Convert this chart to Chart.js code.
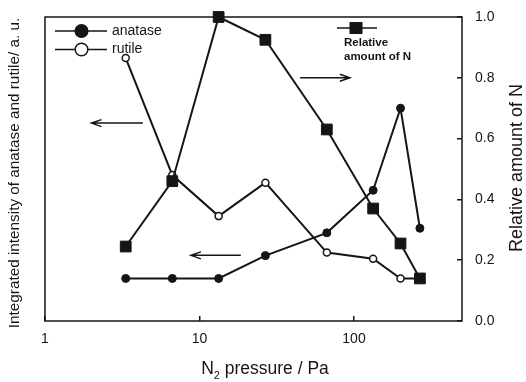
<!DOCTYPE html>
<html>
<head>
<meta charset="utf-8">
<script src="https://cdn.jsdelivr.net/npm/chart.js@4.4.0/dist/chart.umd.min.js"></script>
<style>
  html, body { margin: 0; padding: 0; background: #fff; }
</style>
</head>
<body>
<canvas id="myChart" width="526" height="382"></canvas>
<script>
// N2 pressure (Pa) and the three measured series
const pressures = [3.33, 6.67, 13.3, 26.7, 66.7, 133, 200, 267];
const anatase = [0.14, 0.14, 0.14, 0.215, 0.29, 0.43, 0.70, 0.305];
const rutile = [0.865, 0.48, 0.345, 0.455, 0.225, 0.205, 0.14, 0.14];
const nitrogen = [0.245, 0.46, 1.0, 0.925, 0.63, 0.37, 0.255, 0.14];

const xTicks = [1, 10, 100];
const rightTicks = [0, 0.2, 0.4, 0.6, 0.8, 1.0];

// arrows that point at the axis each curve belongs to (pressure, value)
const arrows = [
    { from: 4.3, to: 2.0, level: 0.651 },
    { from: 18.5, to: 8.8, level: 0.216 },
    { from: 44.8, to: 94, level: 0.80 }
];

const FONT = '"Liberation Sans", Arial, sans-serif';
const INK = '#151515';

function pts(values) {
    return pressures.map((p, i) => ({ x: p, y: values[i] }));
}

// no extra room for half labels, the box is fixed
function noPad(s) {
    s.paddingTop = 0;
    s.paddingBottom = 0;
    s.paddingLeft = 0;
    s.paddingRight = 0;
}

const decorations = {
    id: 'decorations',
    beforeDatasetsDraw(chart) {
        const { ctx, chartArea: a } = chart;
        ctx.save();
        ctx.strokeStyle = INK;
        ctx.lineWidth = 1.5;
        ctx.strokeRect(a.left, a.top, a.right - a.left, a.bottom - a.top);
        ctx.restore();
    },
    afterDraw(chart) {
        const ctx = chart.ctx;
        const xs = chart.scales.x;
        const ys = chart.scales.y1;
        ctx.save();
        ctx.strokeStyle = INK;
        ctx.fillStyle = INK;
        ctx.lineWidth = 1.5;

        // arrows
        arrows.forEach(ar => {
            const x1 = xs.getPixelForValue(ar.from);
            const x2 = xs.getPixelForValue(ar.to);
            const y = ys.getPixelForValue(ar.level);
            const d = Math.sign(x2 - x1);
            ctx.beginPath();
            ctx.moveTo(x1, y);
            ctx.lineTo(x2, y);
            ctx.moveTo(x2 - d * 10, y - 3.5);
            ctx.lineTo(x2, y);
            ctx.lineTo(x2 - d * 10, y + 3.5);
            ctx.stroke();
        });

        // legend (top left)
        ctx.font = '14px ' + FONT;
        ctx.textBaseline = 'middle';
        ctx.textAlign = 'left';
        [[31, true, 'anatase'], [49.5, false, 'rutile']].forEach(([y, filled, txt]) => {
            ctx.beginPath();
            ctx.moveTo(55, y);
            ctx.lineTo(107, y);
            ctx.stroke();
            ctx.beginPath();
            ctx.arc(81.5, y, 6.3, 0, Math.PI * 2);
            ctx.fillStyle = filled ? INK : '#fff';
            ctx.fill();
            ctx.stroke();
            ctx.fillStyle = INK;
            ctx.fillText(txt, 112, y);
        });

        // legend for N
        ctx.beginPath();
        ctx.moveTo(337, 28);
        ctx.lineTo(377, 28);
        ctx.stroke();
        ctx.fillRect(349.5, 22, 13, 12);
        ctx.font = 'bold 11.5px ' + FONT;
        ctx.fillText('Relative', 344, 43);
        ctx.fillText('amount of N', 344, 57);

        // axis titles
        ctx.textAlign = 'center';
        ctx.save();
        ctx.translate(15, 173);
        ctx.rotate(-Math.PI / 2);
        ctx.font = '15.3px ' + FONT;
        ctx.fillText('Integrated intensity of anatase and rutile/ a. u.', 0, 0);
        ctx.restore();

        ctx.save();
        ctx.translate(517, 168);
        ctx.rotate(-Math.PI / 2);
        ctx.font = '18px ' + FONT;
        ctx.fillText('Relative amount of N', 0, 0);
        ctx.restore();

        // x title with subscript
        ctx.textAlign = 'left';
        ctx.textBaseline = 'alphabetic';
        const big = '17.5px ' + FONT, small = '11px ' + FONT;
        ctx.font = big;
        const wN = ctx.measureText('N').width;
        const wRest = ctx.measureText(' pressure / Pa').width;
        ctx.font = small;
        const wSub = ctx.measureText('2').width;
        let x = 265 - (wN + wSub + wRest) / 2;
        const base = 374;
        ctx.font = big;
        ctx.fillText('N', x, base);
        x += wN;
        ctx.font = small;
        ctx.fillText('2', x, base + 5);
        x += wSub;
        ctx.font = big;
        ctx.fillText(' pressure / Pa', x, base);

        ctx.restore();
    }
};

const canvas = document.getElementById('myChart');
const myChart = new Chart(canvas, {
    type: 'line',
    data: {
        datasets: [
            {
                label: 'anatase',
                data: pts(anatase),
                yAxisID: 'y',
                order: 1,
                borderColor: INK,
                backgroundColor: INK,
                borderWidth: 2,
                pointRadius: 4,
                pointBorderWidth: 1,
                pointStyle: 'circle',
                clip: false
            },
            {
                label: 'rutile',
                data: pts(rutile),
                yAxisID: 'y',
                order: 2,
                borderColor: INK,
                backgroundColor: '#fff',
                borderWidth: 2,
                pointRadius: 3.5,
                pointBorderWidth: 1.5,
                pointStyle: 'circle',
                clip: false
            },
            {
                label: 'Relative amount of N',
                data: pts(nitrogen),
                yAxisID: 'y1',
                order: 0,
                borderColor: INK,
                backgroundColor: INK,
                borderWidth: 2,
                pointRadius: 7.6,
                pointBorderWidth: 1,
                pointStyle: 'rect',
                clip: false
            }
        ]
    },
    options: {
        responsive: false,
        animation: false,
        layout: { padding: { top: 17, left: 0, right: 0, bottom: 0 } },
        plugins: {
            legend: { display: false },
            tooltip: { enabled: false }
        },
        scales: {
            x: {
                type: 'logarithmic',
                min: 1,
                max: 500,
                afterBuildTicks: s => { s.ticks = xTicks.map(v => ({ value: v })); },
                afterFit: s => { s.height = 61; noPad(s); },
                border: { display: false },
                grid: { drawOnChartArea: false, tickLength: -5, color: INK, lineWidth: 1.5 },
                ticks: {
                    color: INK,
                    font: { family: FONT, size: 14 },
                    padding: 15,
                    maxRotation: 0,
                    autoSkip: false,
                    callback: v => String(v)
                }
            },
            y: {
                position: 'left',
                min: 0,
                max: 1,
                afterFit: s => { s.width = 45; noPad(s); },
                border: { display: false },
                grid: { display: false },
                ticks: { display: false }
            },
            y1: {
                position: 'right',
                min: 0,
                max: 1,
                afterBuildTicks: s => { s.ticks = rightTicks.map(v => ({ value: v })); },
                afterFit: s => { s.width = 64; noPad(s); },
                border: { display: false },
                grid: { drawOnChartArea: false, tickLength: -5, color: INK, lineWidth: 1.5 },
                ticks: {
                    color: INK,
                    font: { family: FONT, size: 14 },
                    padding: 18,
                    callback: v => v.toFixed(1)
                }
            }
        }
    },
    plugins: [decorations]
});
</script>
</body>
</html>
